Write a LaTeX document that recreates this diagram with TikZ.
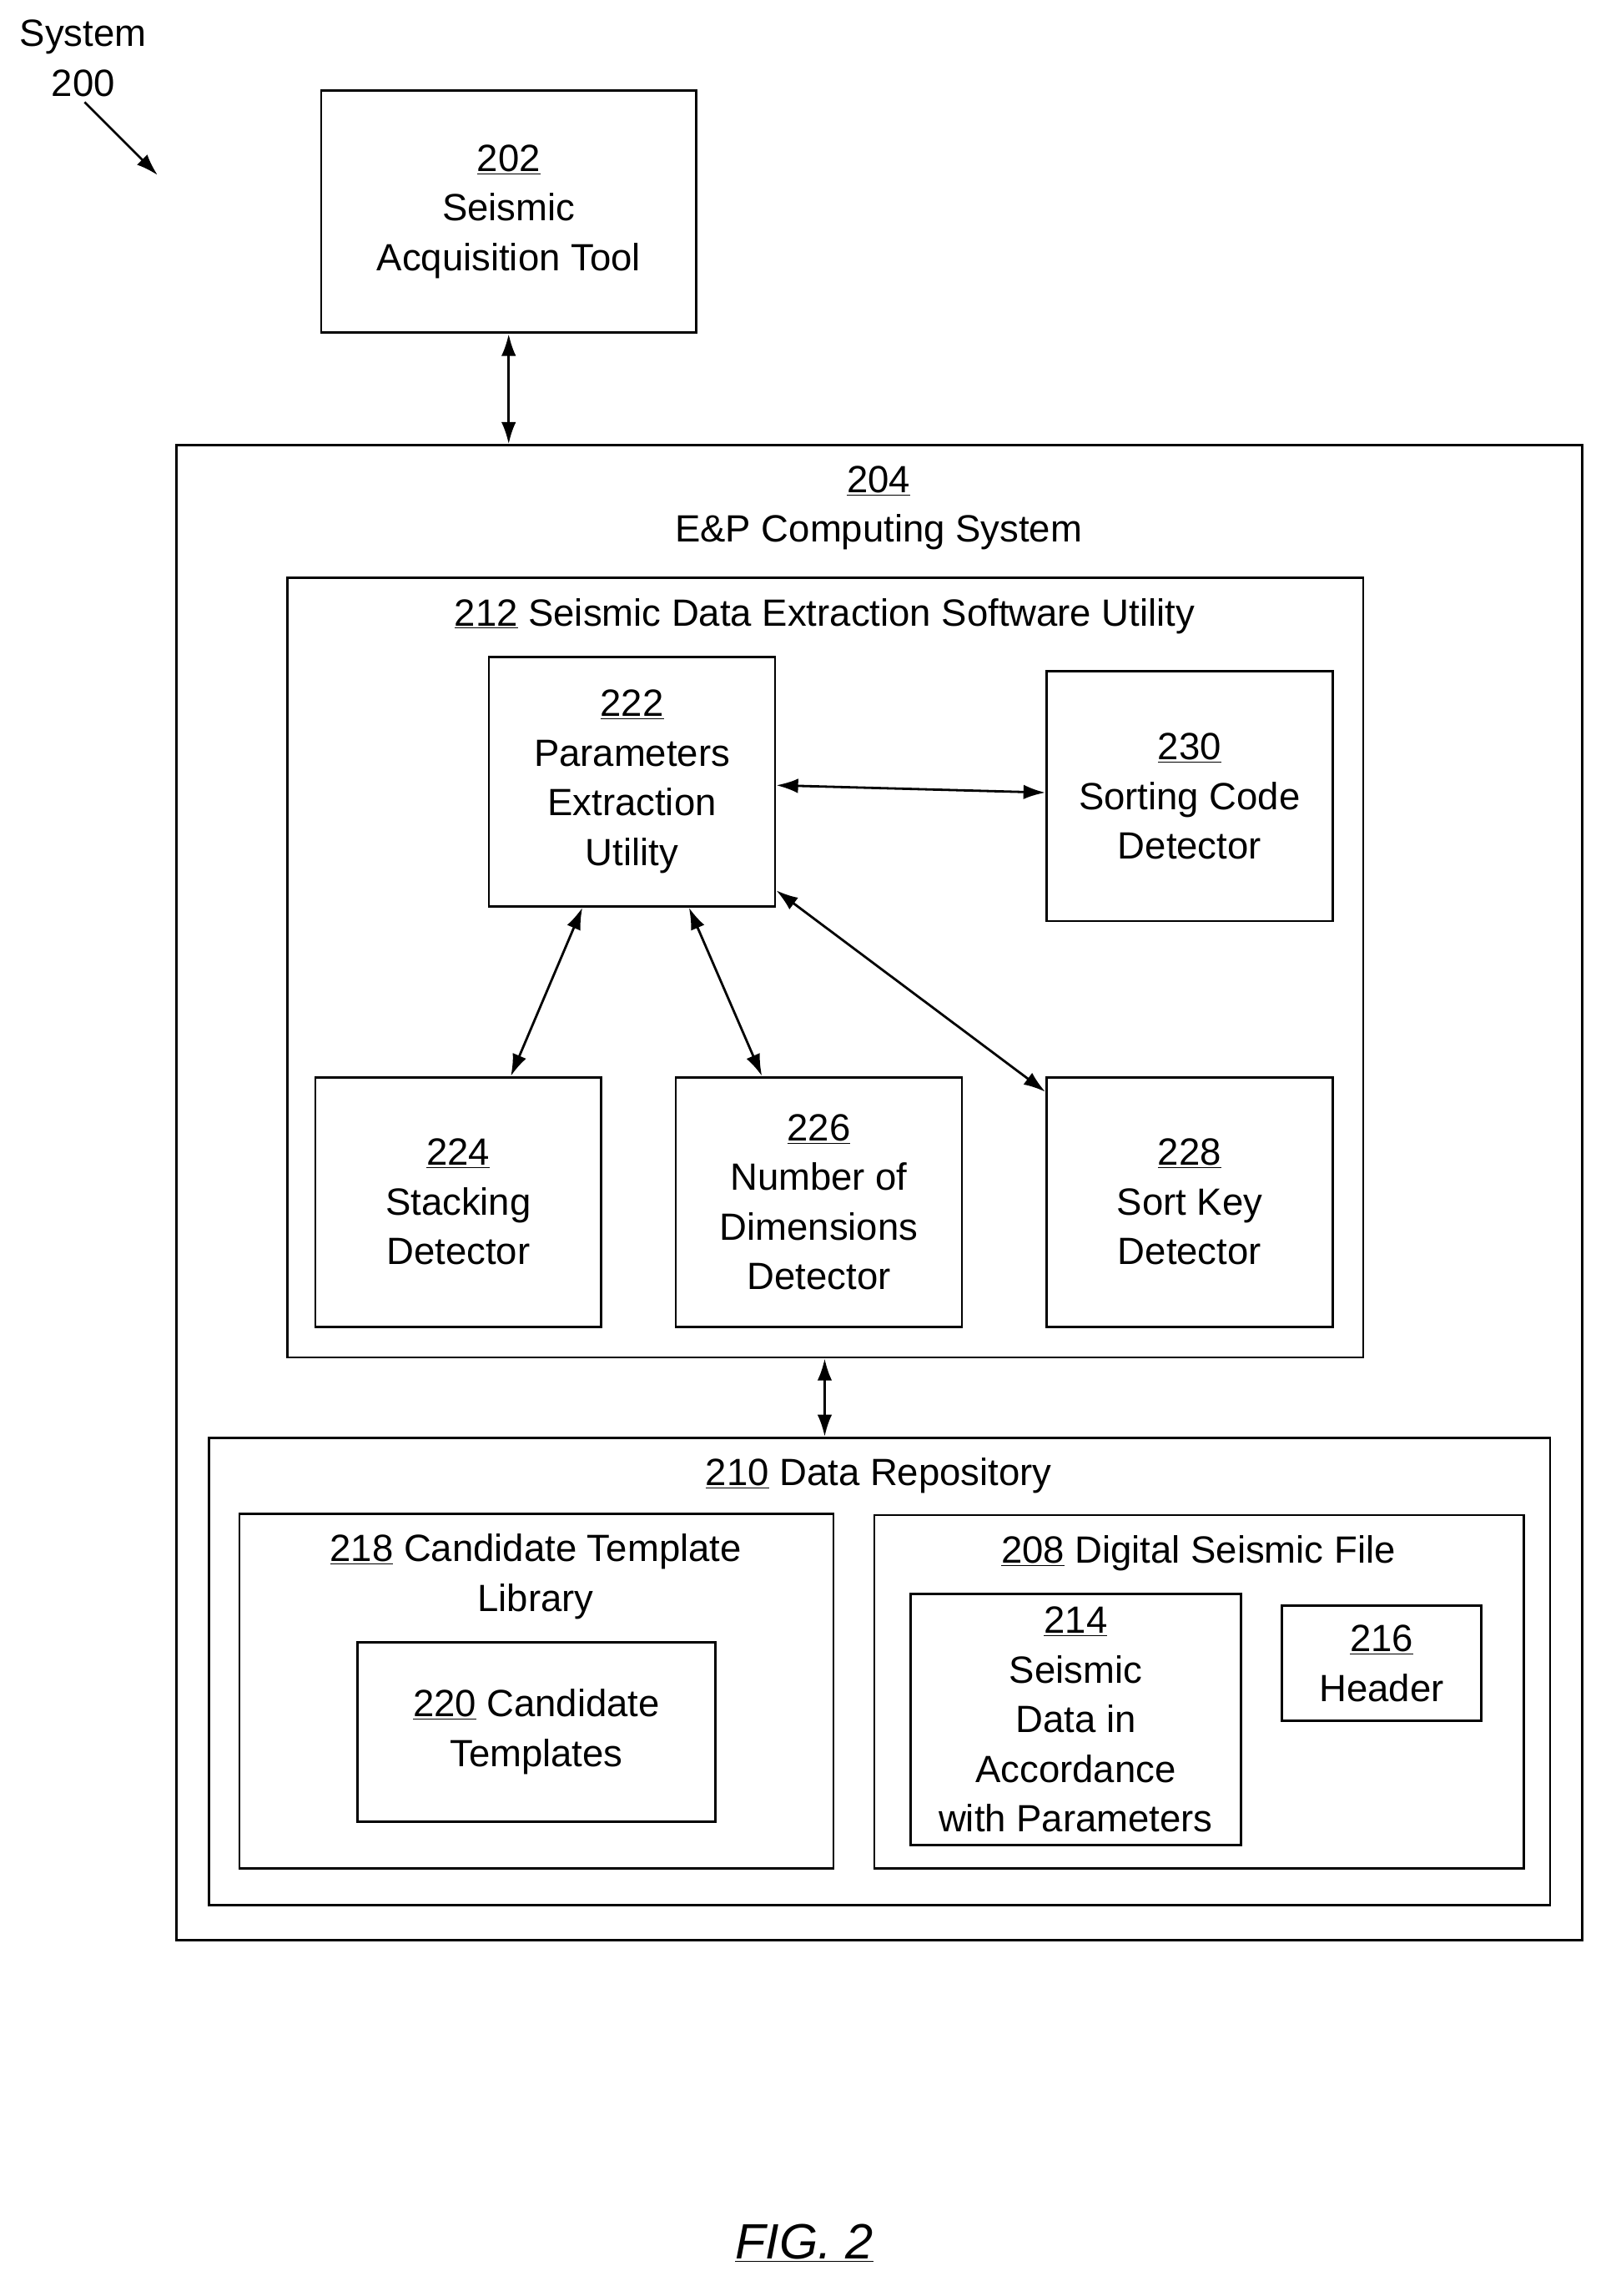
\documentclass[tikz,border=0pt]{standalone}
\usepackage{fontspec}
\setmainfont{Liberation Sans}
\usetikzlibrary{arrows.meta}
\tikzset{
  box/.style={draw,line width=1.6pt,rectangle,inner sep=0pt},
  lbl/.style={align=center,font=\fontsize{26}{34}\selectfont},
  link/.style={{Latex[length=15pt,width=10pt]}-{Latex[length=15pt,width=10pt]},line width=1.6pt},
}
\newcommand{\bx}[5]{% name, x1, y1, x2, y2
  \node[box,minimum width=#4pt-#2pt,minimum height=#5pt-#3pt] (#1) at ({(#2+#4)/2*1pt},{-(#3+#5)/2*1pt}) {};}
\begin{document}
\begin{tikzpicture}[x=1pt,y=1pt]
\useasboundingbox (0,0) rectangle (1100,-1573);
%% boxes
\bx{SAT}{220}{62}{477}{228}
\bx{EPC}{121}{305}{1084}{1329}
\bx{SDE}{197}{396}{934}{930}
\bx{PEU}{335}{450}{531}{621}
\bx{SCD}{717}{460}{913}{631}
\bx{STD}{216}{738}{412}{909}
\bx{NDD}{463}{738}{659}{909}
\bx{SKD}{717}{738}{913}{909}
\bx{DR}{143}{985}{1062}{1305}
\bx{CTL}{164}{1037}{571}{1280}
\bx{CT}{245}{1125}{490}{1248}
\bx{DSF}{599}{1038}{1044}{1280}
\bx{SDP}{624}{1092}{850}{1264}
\bx{HDR}{878}{1100}{1015}{1179}
%% labels
\node[lbl] (sys) at (57,-40) {System\\200};
\node[lbl] at (SAT) {\underline{202}\\Seismic\\Acquisition Tool};
\node[lbl] at (602,-348) {\underline{204}\\E\&P Computing System};
\node[lbl] at (565,-422) {\underline{212} Seismic Data Extraction Software Utility};
\node[lbl] at (PEU) {\underline{222}\\Parameters\\Extraction\\Utility};
\node[lbl] at (SCD) {\underline{230}\\Sorting Code\\Detector};
\node[lbl] at (STD) {\underline{224}\\Stacking\\Detector};
\node[lbl] at (NDD) {\underline{226}\\Number of\\Dimensions\\Detector};
\node[lbl] at (SKD) {\underline{228}\\Sort Key\\Detector};
\node[lbl] at (602,-1011) {\underline{210} Data Repository};
\node[lbl] at (367,-1080) {\underline{218} Candidate Template\\Library};
\node[lbl] at (CT) {\underline{220} Candidate\\Templates};
\node[lbl] at (821,-1064) {\underline{208} Digital Seismic File};
\node[lbl] at (SDP) {\underline{214}\\Seismic\\Data in\\Accordance\\with Parameters};
\node[lbl] at (HDR) {\underline{216}\\Header};
\node[lbl,font=\fontsize{34}{40}\selectfont\itshape] (fig) at (551,-1537) {\underline{FIG. 2}};
%% connectors
\coordinate (p1) at (58,-70);
\coordinate (p2) at (108,-120);
\draw[-{Latex[length=15pt,width=10pt]},line width=1.6pt] (p1) -- (p2);
\draw[link] (SAT.south) -- (SAT.south |- EPC.north);
\draw[link] (PEU.east |- 0,-538) -- (SCD.west |- 0,-543);
\draw[link] (PEU.south -| 399,0) -- (STD.north -| 350,0);
\draw[link] (PEU.south -| 472,0) -- (NDD.north -| 522,0);
\draw[link] (PEU.east |- 0,-610) -- (SKD.west |- 0,-748);
\draw[link] (SDE.south -| 565,0) -- (DR.north -| 565,0);
\end{tikzpicture}
\end{document}
